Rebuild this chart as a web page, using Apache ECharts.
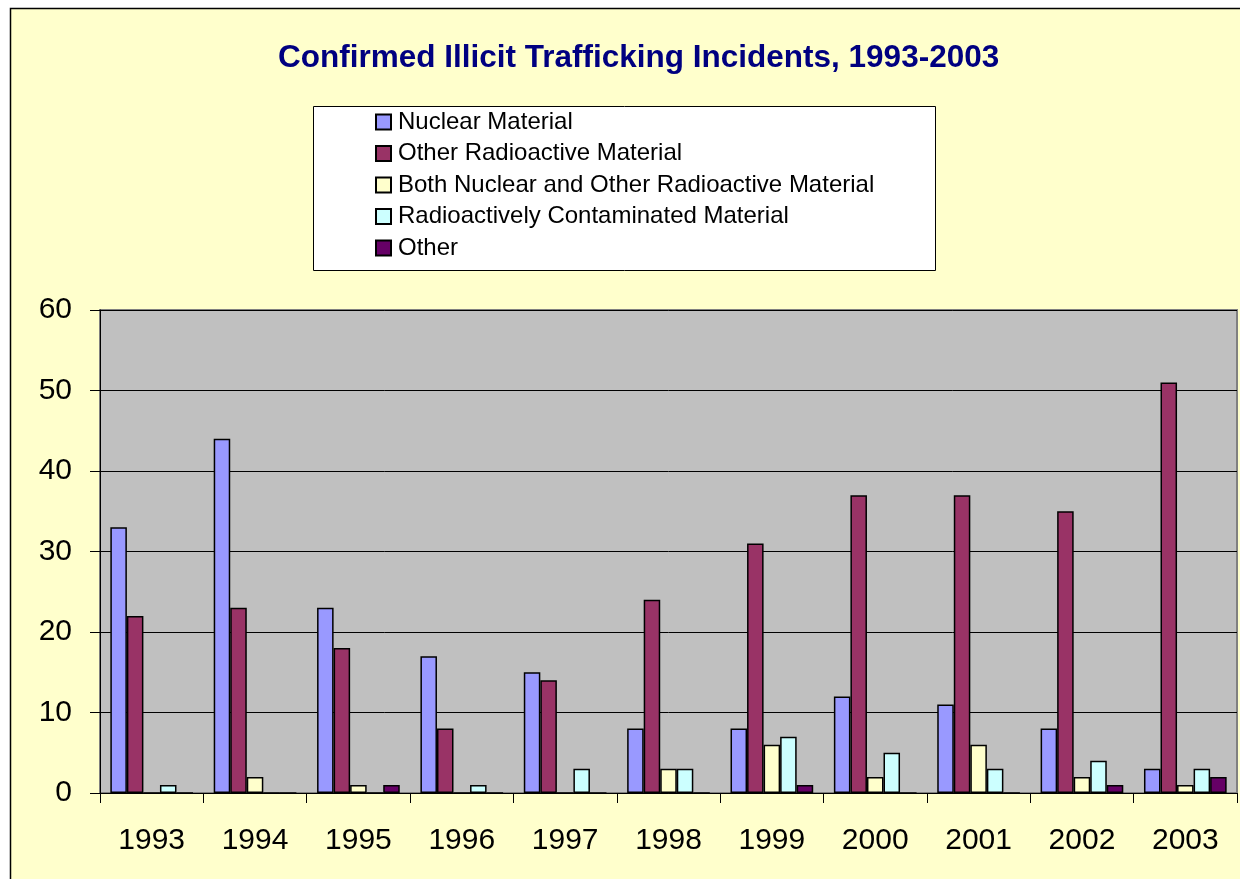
<!DOCTYPE html>
<html>
<head>
<meta charset="utf-8">
<script src="https://cdn.jsdelivr.net/npm/echarts@6/dist/echarts.min.js"></script>
<style>
html,body{margin:0;padding:0;background:#ffffff;}
#chart{width:1240px;height:879px;}
</style>
</head>
<body>
<div id="chart"></div>
<script>
var years = ['1993','1994','1995','1996','1997','1998','1999','2000','2001','2002','2003'];
var nuclear = [33,44,23,17,15,8,8,12,11,8,3];
var otherRadioactive = [22,23,18,8,14,24,31,37,37,35,51];
var bothMaterials = [0,2,1,0,0,3,6,2,6,2,1];
var contaminated = [1,0,0,1,3,3,7,5,3,4,3];
var otherType = [0,0,1,0,0,0,1,0,0,1,2];
var yTicks = [0,10,20,30,40,50,60];

var seriesNames = ['Nuclear Material','Other Radioactive Material','Both Nuclear and Other Radioactive Material','Radioactively Contaminated Material','Other'];
var seriesColors = ['#9999FF','#993366','#FFFFCC','#CCFFFF','#660066'];
var seriesData = [nuclear, otherRadioactive, bothMaterials, contaminated, otherType];

var font = '"Liberation Sans", Arial, sans-serif';
var chart = echarts.init(document.getElementById('chart'));
chart.setOption({
  backgroundColor: '#ffffff',
  animation: false,
  graphic: [
    {type:'rect', z:-10, shape:{x:10.5,y:8.5,width:1240,height:880}, style:{fill:'#FFFFCC',stroke:'#000000',lineWidth:1.5}},
    {type:'rect', z:-5, shape:{x:313.5,y:106.5,width:622,height:164}, style:{fill:'#FFFFFF',stroke:'#000000',lineWidth:1}}
  ],
  title: {
    text: 'Confirmed Illicit Trafficking Incidents, 1993-2003',
    left: 273, top: 37,
    textStyle: {fontFamily: font, fontSize: 31.5, fontWeight: 'bold', color: '#000080'}
  },
  legend: {
    orient: 'vertical',
    left: 375, top: 110,
    padding: 0,
    itemWidth: 15, itemHeight: 15, itemGap: 7.5,
    icon: 'rect',
    textStyle: {fontFamily: font, fontSize: 24, color: '#000000', padding:[0,0,0,2]},
    data: seriesNames
  },
  grid: {
    left: 100, top: 310, right: 3, bottom: 86,
    show: true, backgroundColor: '#C0C0C0', borderColor: '#808080', borderWidth: 2
  },
  xAxis: {
    type: 'category', data: years,
    axisLine: {show: true, lineStyle: {color: '#000000', width: 1}},
    axisTick: {show: true, alignWithLabel: false, length: 10, lineStyle: {color:'#000000'}},
    axisLabel: {fontFamily: font, fontSize: 30, color: '#000000', margin: 33}
  },
  yAxis: {
    type: 'value', min: 0, max: 60, interval: 10,
    axisLine: {show: true, lineStyle: {color: '#000000', width: 1}},
    axisTick: {show: true, length: 10, lineStyle: {color:'#000000'}},
    axisLabel: {fontFamily: font, fontSize: 30, color: '#000000', margin: 28,
      formatter: function(v){ return yTicks.indexOf(v) >= 0 ? String(v) : ''; }},
    splitLine: {show: true, lineStyle: {color: '#000000', width: 1}}
  },
  series: seriesData.map(function(d, i){
    return {
      name: seriesNames[i], type: 'bar', data: d,
      barGap: '0%', barCategoryGap: '20%',
      itemStyle: {color: seriesColors[i], borderColor: '#000000', borderWidth: 1.5},
      emphasis: {disabled: true}
    };
  })
});
</script>
</body>
</html>
